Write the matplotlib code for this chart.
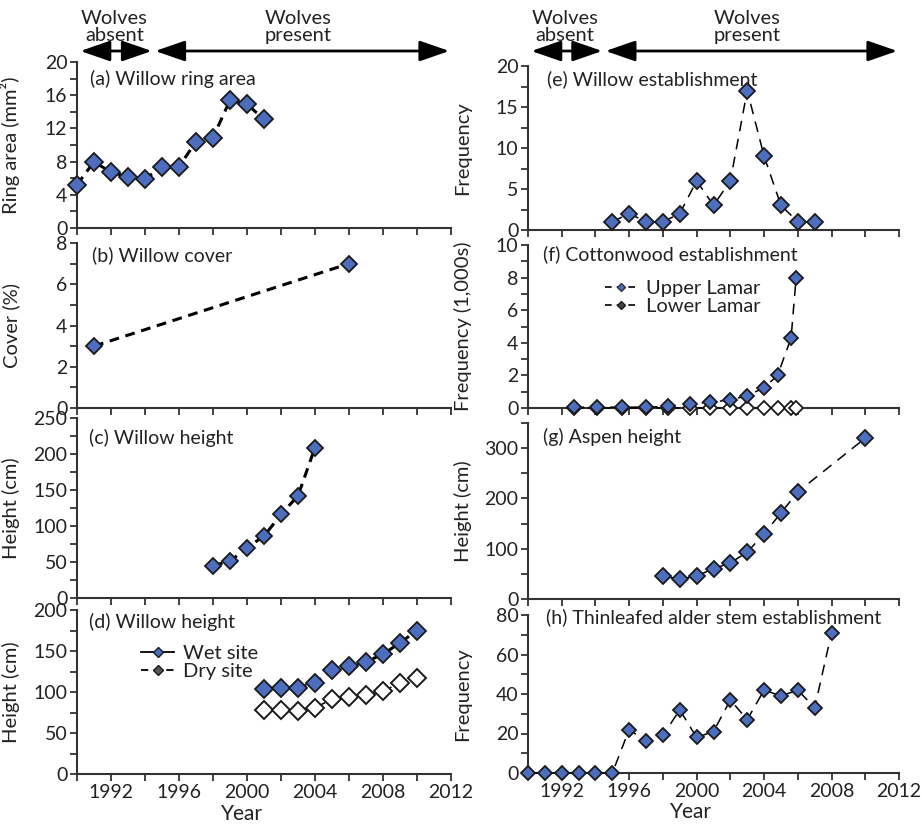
import matplotlib
matplotlib.use("Agg")
import matplotlib.pyplot as plt
import matplotlib.transforms as mtransforms
from matplotlib.lines import Line2D

plt.rcParams['font.family'] = ['Lato', 'DejaVu Sans']

# ---------------- data ----------------
ring_years = [1990, 1991, 1992, 1993, 1994, 1995, 1996, 1997, 1998, 1999, 2000, 2001]
ring_area = [5.2, 8.0, 6.7, 6.2, 5.9, 7.4, 7.4, 10.4, 10.9, 15.4, 14.9, 13.1]

cover_years = [1991, 2006]
cover_pct = [3.0, 7.0]

wh_years = [1998, 1999, 2000, 2001, 2002, 2003, 2004]
wh_height = [45, 51, 70, 86, 116, 142, 209]

wd_years = [2001, 2002, 2003, 2004, 2005, 2006, 2007, 2008, 2009, 2010]
wet_height = [104, 105, 105, 111, 127, 132, 137, 146, 160, 175]
dry_height = [78, 78, 77, 81, 91, 94, 96, 101, 111, 117]

we_years = [1995, 1996, 1997, 1998, 1999, 2000, 2001, 2002, 2003, 2004, 2005, 2006, 2007]
we_freq = [1, 2, 1, 1, 2, 6, 3, 6, 17, 9, 3, 1, 1]

cw_years = [1992.7, 1994.1, 1995.6, 1997.0, 1998.3, 1999.6, 2000.8, 2002.0,
            2003.0, 2004.0, 2004.8, 2005.6, 2005.9]
cw_upper = [0.05, 0.05, 0.05, 0.05, 0.1, 0.25, 0.35, 0.5, 0.75, 1.25, 2.0, 4.3, 8.0]
cw_lower = [0.0, 0.0, 0.0, 0.0, 0.0, 0.0, 0.0, 0.0, 0.0, 0.0, 0.0, 0.0, 0.0]

asp_years = [1998, 1999, 2000, 2001, 2002, 2003, 2004, 2005, 2006, 2010]
asp_height = [46, 39, 46, 60, 72, 93, 130, 171, 213, 320]

al_years = [1990, 1991, 1992, 1993, 1994, 1995, 1996, 1997, 1998, 1999,
            2000, 2001, 2002, 2003, 2004, 2005, 2006, 2007, 2008]
al_freq = [0, 0, 0, 0, 0, 0, 22, 16, 19, 32, 18, 21, 37, 27, 42, 39, 42, 33, 71]

xtick_major = list(range(1990, 2013, 2))
xtick_labels = ['', '1992', '', '1996', '', '2000', '', '2004', '', '2008', '', '2012']

wolf_periods = [(1990.2, 1994.4, 'Wolves\nabsent', 1992.2),
                (1994.6, 2011.9, 'Wolves\npresent', 2003.0)]

# ---------------- style ----------------
BLUE = '#4d6ebf'
EDGE = '#1a1a1a'
AX = '#333333'
TXT = '#222222'

fig = plt.figure(figsize=(9.22, 8.25), dpi=100)

W, H = 922.0, 825.0
def rect(x0, x1, ytop, ybot):
    return [x0 / W, 1 - ybot / H, (x1 - x0) / W, (ybot - ytop) / H]

LX0, LX1 = 77, 451
RX0, RX1 = 528, 899
ax_a = fig.add_axes(rect(LX0, LX1, 62, 228))
ax_b = fig.add_axes(rect(LX0, LX1, 243, 408))
ax_c = fig.add_axes(rect(LX0, LX1, 418, 598))
ax_d = fig.add_axes(rect(LX0, LX1, 610, 774))
ax_e = fig.add_axes(rect(RX0, RX1, 66, 230))
ax_f = fig.add_axes(rect(RX0, RX1, 245, 408))
ax_g = fig.add_axes(rect(RX0, RX1, 423, 599))
ax_h = fig.add_axes(rect(RX0, RX1, 615, 773))

def style(ax, ylim, major, minor, ylabel, title, tx, ty, bottom=False):
    ax.set_xlim(1990, 2012)
    ax.set_ylim(*ylim)
    for s in ['top', 'right']:
        ax.spines[s].set_visible(False)
    for s in ['left', 'bottom']:
        ax.spines[s].set_linewidth(1.5)
        ax.spines[s].set_color(AX)
    ax.set_xticks(xtick_major)
    if bottom:
        ax.set_xticklabels(xtick_labels)
        ax.set_xlabel('Year', fontsize=15, color=TXT)
        ax.xaxis.set_label_coords(0.44, -0.185)
    else:
        ax.set_xticklabels([])
    ax.set_yticks(major)
    ax.set_yticks(minor, minor=True)
    ax.set_yticklabels([str(v) for v in major])
    ax.tick_params(which='both', direction='out', length=5, width=1.3, color=AX,
                   labelsize=14, labelcolor=TXT, pad=2)
    ax.set_ylabel(ylabel, fontsize=14.5, color=TXT)
    ax.yaxis.set_label_coords(-0.152, 0.5)
    ax.text(tx, ty, title, transform=ax.transAxes, fontsize=14, color=TXT,
            ha='left', va='center')

thick = dict(color='black', lw=2.2, linestyle=(0, (3.2, 2.2)))
thin = dict(color='black', lw=1.1, linestyle=(0, (7, 5)))
mk = dict(marker='D', markerfacecolor=BLUE, markeredgecolor=EDGE, markeredgewidth=1.3,
          clip_on=False, zorder=3)

# (a)
ax_a.plot(ring_years, ring_area, ms=8.8, **thick, **mk)
style(ax_a, (0, 20), [0, 4, 8, 12, 16, 20], [2, 6, 10, 14, 18],
      'Ring area (mm²)', '(a) Willow ring area', 0.035, 0.90)

# (b)
ax_b.plot(cover_years, cover_pct, ms=8.5, **thick, **mk)
style(ax_b, (0, 8), [0, 2, 4, 6, 8], [1, 3, 5, 7],
      'Cover (%)', '(b) Willow cover', 0.04, 0.925)

# (c)
ax_c.plot(wh_years, wh_height, ms=8.3, **thick, **mk)
style(ax_c, (0, 250), [0, 50, 100, 150, 200, 250], [25, 75, 125, 175, 225],
      'Height (cm)', '(c) Willow height', 0.032, 0.89)

# (d)
ax_d.plot(wd_years, wet_height, ms=8.8, **thick, **mk)
ax_d.plot(wd_years, dry_height, ms=8.8, color='black', lw=1.1, linestyle=(0, (5, 4)),
          marker='D', markerfacecolor='white', markeredgecolor=EDGE, markeredgewidth=1.4,
          clip_on=False, zorder=3)
style(ax_d, (0, 200), [0, 50, 100, 150, 200], [25, 75, 125, 175],
      'Height (cm)', '(d) Willow height', 0.032, 0.93, bottom=True)
h_wet = Line2D([], [], color='black', lw=1.3, marker='D', ms=5,
               markerfacecolor=BLUE, markeredgecolor=EDGE)
h_dry = Line2D([], [], color='black', lw=1.3, linestyle=(0, (4, 3)), marker='D', ms=5,
               markerfacecolor='#555555', markeredgecolor=EDGE)
leg = ax_d.legend([h_wet, h_dry], ['Wet site', 'Dry site'], loc='upper left',
                  bbox_to_anchor=(0.14, 0.86), frameon=False, fontsize=14.5,
                  handlelength=1.6, handletextpad=0.45, labelspacing=0.05,
                  borderpad=0.1)
for t in leg.get_texts():
    t.set_color(TXT)

# (e)
ax_e.plot(we_years, we_freq, ms=7.8, **thin, **mk)
style(ax_e, (0, 20), [0, 5, 10, 15, 20], [2.5, 7.5, 12.5, 17.5],
      'Frequency', '(e) Willow establishment', 0.05, 0.92)

# (f)
ax_f.plot(cw_years, cw_lower, ms=7.4, color='black', lw=1.1, linestyle=(0, (6, 3)),
          marker='D', markerfacecolor='white', markeredgecolor=EDGE, markeredgewidth=1.3,
          clip_on=False, zorder=3)
ax_f.plot(cw_years, cw_upper, ms=7.4, **thin, **mk)
style(ax_f, (0, 10), [0, 2, 4, 6, 8, 10], [1, 3, 5, 7, 9],
      'Frequency (1,000s)', '(f) Cottonwood establishment', 0.04, 0.945)
h_up = Line2D([], [], color='black', lw=1.2, linestyle=(0, (4, 3)), marker='D', ms=4.5,
              markerfacecolor=BLUE, markeredgecolor='#333333')
h_lo = Line2D([], [], color='black', lw=1.2, linestyle=(0, (4, 3)), marker='D', ms=4.5,
              markerfacecolor='#444444', markeredgecolor=EDGE)
leg2 = ax_f.legend([h_up, h_lo], ['Upper Lamar', 'Lower Lamar'], loc='upper left',
                   bbox_to_anchor=(0.175, 0.86), frameon=False, fontsize=14.5,
                   handlelength=1.6, handletextpad=0.45, labelspacing=0.05,
                   borderpad=0.1)
for t in leg2.get_texts():
    t.set_color(TXT)

# (g)
ax_g.plot(asp_years, asp_height, ms=8.2, **thin, **mk)
style(ax_g, (0, 350), [0, 100, 200, 300], [50, 150, 250, 350],
      'Height (cm)', '(g) Aspen height', 0.04, 0.92)

# (h)
ax_h.plot(al_years, al_freq, ms=7.6, **thin, **mk)
style(ax_h, (0, 80), [0, 20, 40, 60, 80], [10, 30, 50, 70],
      'Frequency', '(h) Thinleafed alder stem establishment', 0.049, 0.985, bottom=True)

# wolves arrows
ARROW_Y = 1 - 51 / H
TEXT_Y = 1 - 27 / H
for ax in (ax_a, ax_e):
    tr = mtransforms.blended_transform_factory(ax.transData, fig.transFigure)
    for x0, x1, label, xc in wolf_periods:
        ax.annotate('', xy=(x1, ARROW_Y), xytext=(x0, ARROW_Y), xycoords=tr, textcoords=tr,
                    arrowprops=dict(arrowstyle='<|-|>,head_length=1.3,head_width=0.45',
                                    mutation_scale=14, color='black', lw=2.0,
                                    shrinkA=0, shrinkB=0),
                    annotation_clip=False)
        ax.text(xc, TEXT_Y, label, transform=tr, ha='center', va='center',
                fontsize=14.5, color=TXT, linespacing=1.0)

fig.savefig('out.png', dpi=100)
